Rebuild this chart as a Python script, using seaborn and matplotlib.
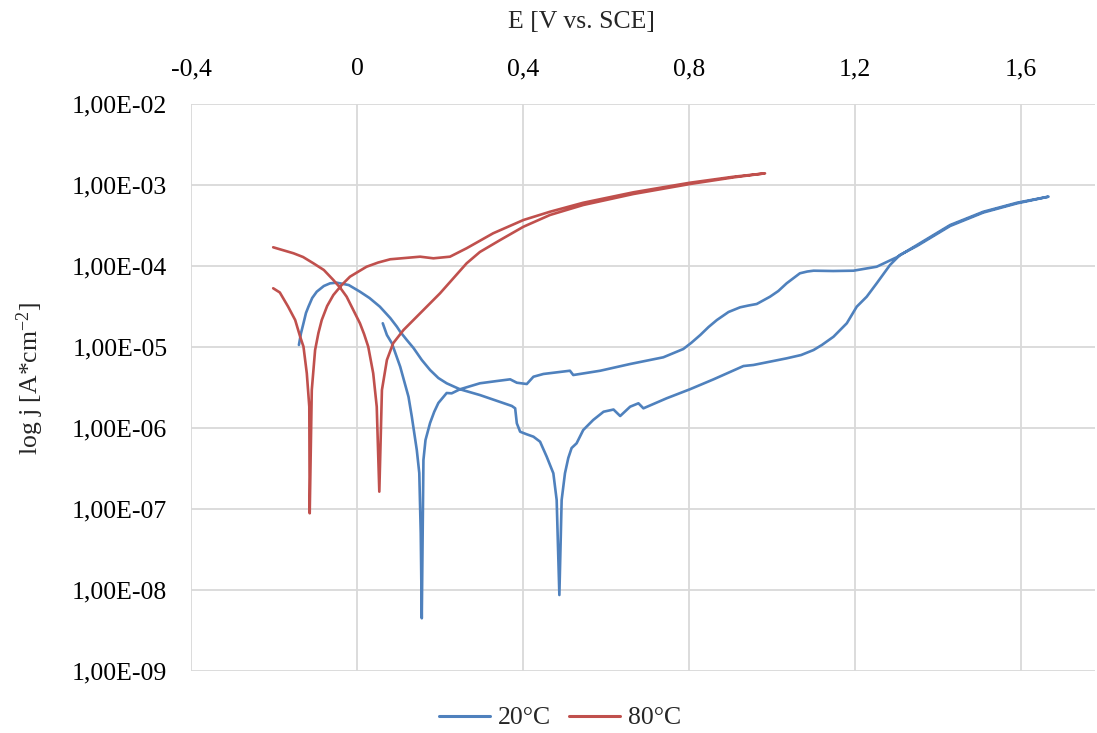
import matplotlib
matplotlib.use("Agg")
import numpy as np
import pandas as pd
import seaborn as sns
import matplotlib.pyplot as plt
from matplotlib.ticker import FixedLocator, FuncFormatter, NullLocator

# Cyclic polarisation scans: potential E [V vs. SCE] and log10 of current density j [A/cm2]
E_20 = [0.062, 0.072, 0.084, 0.104, 0.124, 0.132, 0.144, 0.150, 0.1535, 0.156,
        0.160, 0.165, 0.176, 0.186, 0.196, 0.216, 0.228, 0.248, 0.296, 0.337, 0.369, 0.385,
        0.409, 0.425, 0.449, 0.513, 0.521, 0.586, 0.658, 0.738, 0.786, 0.805, 0.827,
        0.847, 0.867, 0.895, 0.923, 0.943, 0.963, 0.995, 1.015, 1.035, 1.067, 1.085, 1.100,
        1.147, 1.196, 1.252,
        1.300, 1.349, 1.429, 1.509, 1.590, 1.666,
        1.590, 1.509, 1.429, 1.349, 1.308, 1.284, 1.252, 1.228, 1.204, 1.180,
        1.148, 1.120, 1.100, 1.070, 1.035, 0.955, 0.931, 0.859, 0.802, 0.746, 0.690, 0.678,
        0.658, 0.634, 0.618, 0.594, 0.569, 0.545, 0.529, 0.517, 0.509, 0.501, 0.493,
        0.4875, 0.481, 0.473, 0.457, 0.441, 0.425, 0.409, 0.393, 0.385, 0.381,
        0.373, 0.296, 0.248, 0.216, 0.196, 0.176, 0.156, 0.136, 0.120, 0.104, 0.096,
        0.080, 0.055, 0.030, 0.007, -0.020,
        -0.049, -0.065, -0.080, -0.097, -0.108, -0.117, -0.123, -0.129, -0.135, -0.140]
log_j_20 = [-4.707, -4.852, -4.954, -5.243, -5.614, -5.860, -6.272, -6.556, -7.296, -8.349,
            -6.395, -6.148, -5.938, -5.800, -5.691, -5.568, -5.572, -5.522, -5.448, -5.420, -5.399, -5.441,
            -5.457, -5.367, -5.333, -5.293, -5.346, -5.293, -5.210, -5.127, -5.025, -4.950, -4.852,
            -4.753, -4.667, -4.568, -4.510, -4.488, -4.469, -4.379, -4.309, -4.214, -4.090, -4.068, -4.058,
            -4.062, -4.058, -4.009,
            -3.893, -3.741, -3.494, -3.330, -3.219, -3.144,
            -3.227, -3.340, -3.506, -3.753, -3.864, -3.988, -4.214, -4.379, -4.502, -4.707,
            -4.873, -4.975, -5.037, -5.099, -5.140, -5.222, -5.235, -5.399, -5.522, -5.633, -5.757, -5.695,
            -5.737, -5.852, -5.772, -5.799, -5.901, -6.025, -6.189, -6.247, -6.370, -6.559, -6.889,
            -8.062, -6.889, -6.559, -6.354, -6.169, -6.107, -6.078, -6.046, -5.942, -5.757,
            -5.728, -5.593, -5.522, -5.448, -5.383, -5.284, -5.160, -5.012, -4.914, -4.811, -4.749,
            -4.642, -4.502, -4.395, -4.317, -4.235,
            -4.206, -4.214, -4.247, -4.317, -4.395, -4.502, -4.580, -4.707, -4.830, -4.975]

E_80 = [-0.202, -0.186, -0.166, -0.149, -0.137, -0.129, -0.121, -0.115, -0.114, -0.109,
        -0.101, -0.093, -0.085, -0.072, -0.057, -0.037, -0.017, 0.004, 0.023, 0.051, 0.080,
        0.152, 0.184, 0.224, 0.264,
        0.328, 0.401, 0.465, 0.545, 0.666, 0.802, 0.907, 0.983,
        0.907, 0.802, 0.666, 0.545, 0.465, 0.401, 0.345, 0.296, 0.264, 0.232,
        0.200, 0.160, 0.112, 0.087, 0.072, 0.060, 0.0537, 0.0475, 0.039, 0.027,
        0.017, 0.007, -0.025, -0.040, -0.057, -0.080, -0.105, -0.130, -0.153, -0.202]
log_j_80 = [-4.275, -4.327, -4.502, -4.667, -4.873, -4.996, -5.325, -5.737, -7.053, -5.531,
            -5.037, -4.827, -4.667, -4.494, -4.358, -4.235, -4.132, -4.067, -4.009, -3.957, -3.917,
            -3.885, -3.905, -3.885, -3.781,
            -3.596, -3.432, -3.330, -3.219, -3.090, -2.972, -2.898, -2.856,
            -2.906, -2.988, -3.111, -3.247, -3.370, -3.515, -3.679, -3.827, -3.967, -4.152,
            -4.337, -4.543, -4.790, -4.954, -5.160, -5.531, -6.786, -5.737, -5.325, -4.996,
            -4.840, -4.707, -4.379, -4.272, -4.173, -4.049, -3.967, -3.889, -3.843, -3.769]

series_labels = ["20°C", "80°C"]
x_ticks = [-0.4, 0.0, 0.4, 0.8, 1.2, 1.6]
y_ticks = [1e-9, 1e-8, 1e-7, 1e-6, 1e-5, 1e-4, 1e-3, 1e-2]

df = pd.concat([
    pd.DataFrame({"E": E_20, "j": np.power(10.0, log_j_20), "T": series_labels[0]}),
    pd.DataFrame({"E": E_80, "j": np.power(10.0, log_j_80), "T": series_labels[1]}),
], ignore_index=True)

sns.set_theme(style="white")
plt.rcParams["font.family"] = ["Liberation Serif", "DejaVu Serif"]
plt.rcParams["mathtext.fontset"] = "custom"
plt.rcParams["mathtext.rm"] = "Liberation Serif"
plt.rcParams["mathtext.it"] = "Liberation Serif:italic"
plt.rcParams["axes.unicode_minus"] = False

fig = plt.figure(figsize=(10.97, 7.33), dpi=100)
ax = fig.add_axes([191 / 1097, 1 - 671 / 733, 904 / 1097, 567 / 733])

palette = {"20°C": "#4F81BD", "80°C": "#C0504D"}
sns.lineplot(data=df, x="E", y="j", hue="T", palette=palette, sort=False,
             estimator=None, linewidth=1.9, ax=ax, legend=False)
for ln in ax.get_lines():
    ln.set_solid_joinstyle("round")

ax.set_yscale("log")
ax.set_xlim(-0.4, 1.778)
ax.set_ylim(1e-9, 1e-2)

ax.xaxis.set_major_locator(FixedLocator(x_ticks))
ax.xaxis.set_minor_locator(NullLocator())
ax.yaxis.set_major_locator(FixedLocator(y_ticks))
ax.yaxis.set_minor_locator(NullLocator())


def fmt_x(v, pos):
    if abs(v) < 1e-9:
        return "0"
    return f"{v:.1f}".replace(".", ",")


def fmt_y(v, pos):
    return f"{v:.2E}".replace(".", ",")


ax.xaxis.set_major_formatter(FuncFormatter(fmt_x))
ax.yaxis.set_major_formatter(FuncFormatter(fmt_y))
ax.xaxis.tick_top()
ax.xaxis.set_label_position("top")
ax.tick_params(axis="x", length=0, pad=17, labelsize=18.5, colors="black")
ax.tick_params(axis="y", length=0, pad=17, labelsize=18.5, colors="black")

ax.grid(True, color="#D9D9D9", linewidth=1.3)
ax.set_axisbelow(True)
for s in ax.spines.values():
    s.set_visible(False)

ax.set_xlabel("E [V vs. SCE]", fontsize=18.5)
ax.xaxis.set_label_coords((581 - 191) / 904, (671 - 22) / 567)
ax.xaxis.label.set_va("center")
ax.set_ylabel(r"log j [A*cm$^{\mathrm{-2}}$]", fontsize=18.5)
ax.yaxis.set_label_coords((30 - 191) / 904, (671 - 378) / 567)
ax.yaxis.label.set_va("center")

handles = [plt.Line2D([], [], color=palette[k], linewidth=2.2) for k in series_labels]
fig.legend(handles, series_labels, loc="center", ncol=2, frameon=False,
           bbox_to_anchor=(560 / 1097, 1 - 718 / 733), fontsize=18.5,
           handlelength=2.0, handletextpad=0.3, columnspacing=0.7)

fig.savefig("out.png", dpi=100)
